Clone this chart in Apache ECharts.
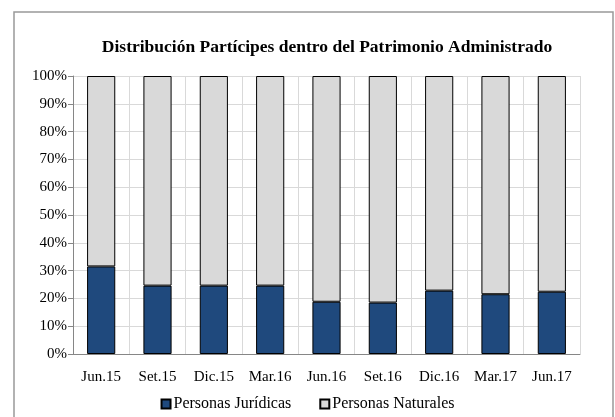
<!DOCTYPE html>
<html>
<head>
<meta charset="utf-8">
<script src="https://cdn.jsdelivr.net/npm/echarts@6/dist/echarts.min.js"></script>
<style>
  html, body { margin: 0; padding: 0; background: #fff; }
  #chart { width: 615px; height: 417px; }
</style>
</head>
<body>
<div id="chart"></div>
<script>
var categories = ["Jun.15", "Set.15", "Dic.15", "Mar.16", "Jun.16", "Set.16", "Dic.16", "Mar.17", "Jun.17"];
var juridicas = [31.5, 24.6, 24.6, 24.6, 18.8, 18.5, 22.8, 21.5, 22.4];
var naturales = [68.5, 75.4, 75.4, 75.4, 81.2, 81.5, 77.2, 78.5, 77.6];

var font = "Liberation Serif, Times New Roman, serif";
var chart = echarts.init(document.getElementById("chart"));
chart.setOption({
  animation: false,
  title: {
    text: "Distribución Partícipes dentro del Patrimonio Administrado",
    left: 322,
    textAlign: "center",
    top: 33,
    textStyle: { fontFamily: font, fontSize: 17.5, fontWeight: "bold", color: "#000" }
  },
  legend: {
    data: ["Personas Jurídicas", "Personas Naturales"],
    bottom: 0,
    left: "center",
    itemWidth: 9,
    itemHeight: 9,
    itemGap: 28,
    icon: "rect",
    textStyle: { fontFamily: font, fontSize: 16, color: "#000", padding: [0, 0, 0, -2] }
  },
  grid: { left: 73, right: 35, top: 76, bottom: 63 },
  xAxis: {
    type: "category",
    data: categories,
    axisLine: { lineStyle: { color: "#868686" } },
    axisTick: { length: 5, lineStyle: { color: "#868686" } },
    axisLabel: { fontFamily: font, fontSize: 15, color: "#000", margin: 16, interval: 0 },
    splitLine: { show: true, interval: 0, lineStyle: { color: "#d9d9d9" } }
  },
  yAxis: {
    type: "value",
    min: 0,
    max: 100,
    interval: 10,
    axisLine: { show: true, lineStyle: { color: "#868686" } },
    axisTick: { show: true, length: 5, lineStyle: { color: "#868686" } },
    axisLabel: { fontFamily: font, fontSize: 15, color: "#000", formatter: "{value}%", margin: 6 },
    splitLine: { lineStyle: { color: "#d9d9d9" } }
  },
  series: [
    {
      name: "Personas Jurídicas",
      type: "bar",
      stack: "total",
      barWidth: "50%",
      data: juridicas,
      itemStyle: { color: "#1f497d", borderColor: "#000", borderWidth: 1 }
    },
    {
      name: "Personas Naturales",
      type: "bar",
      stack: "total",
      barWidth: "50%",
      data: naturales,
      itemStyle: { color: "#d9d9d9", borderColor: "#000", borderWidth: 1 }
    }
  ],
  graphic: [
    {
      type: "rect",
      shape: { x: 14, y: 12, width: 599, height: 420 },
      style: { fill: "none", stroke: "#999", lineWidth: 1.5 },
      silent: true
    }
  ]
});
</script>
</body>
</html>
